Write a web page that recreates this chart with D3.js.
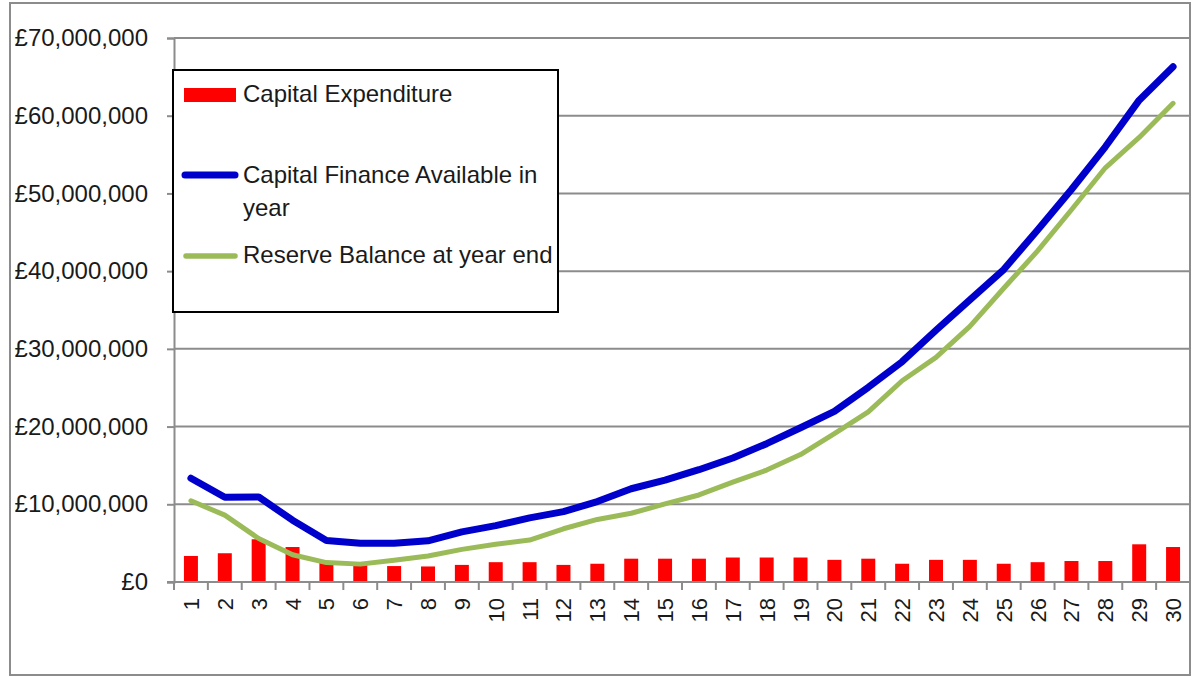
<!DOCTYPE html>
<html>
<head>
<meta charset="utf-8">
<script src="https://cdn.jsdelivr.net/npm/d3@7"></script>
<style>
  html, body { margin: 0; padding: 0; background: #fff; }
  svg { display: block; }
  text { font-family: "Liberation Sans", Arial, sans-serif; fill: #1a1a1a; }
</style>
</head>
<body>
<svg id="chart" width="1197" height="677"></svg>
<script>
// ---- Data (values in £ millions) ----
const years = ["1","2","3","4","5","6","7","8","9","10","11","12","13","14","15","16","17","18","19","20","21","22","23","24","25","26","27","28","29","30"];
const capitalExpenditure = [3.35, 3.7, 5.5, 4.5, 2.6, 2.2, 2.05, 2.0, 2.2, 2.55, 2.55, 2.2, 2.35, 3.0, 3.0, 3.0, 3.15, 3.15, 3.15, 2.85, 3.0, 2.35, 2.85, 2.85, 2.35, 2.55, 2.7, 2.7, 4.85, 4.5];
const capitalFinance = [13.35, 10.9, 10.95, 7.95, 5.35, 4.98, 4.98, 5.3, 6.45, 7.25, 8.25, 9.05, 10.35, 12.0, 13.1, 14.45, 15.95, 17.8, 19.85, 21.95, 25.05, 28.35, 32.4, 36.3, 40.2, 45.3, 50.5, 56.0, 62.0, 66.3];
const reserveBalance = [10.45, 8.6, 5.6, 3.5, 2.5, 2.3, 2.8, 3.35, 4.2, 4.85, 5.4, 6.85, 8.05, 8.85, 10.05, 11.2, 12.85, 14.4, 16.4, 19.1, 21.9, 25.9, 28.9, 32.9, 37.8, 42.6, 47.9, 53.3, 57.2, 61.6];
const yTickValues = [0, 10, 20, 30, 40, 50, 60, 70];
const legendLabels = ["Capital Expenditure", ["Capital Finance Available in", "year"], "Reserve Balance at year end"];

// ---- Layout ----
const svg = d3.select("#chart");
const plot = { left: 174, right: 1190, top: 38, bottom: 582 };
const gridColor = "#8c8c8c";

// outer frame
svg.append("rect")
  .attr("x", 10).attr("y", 3)
  .attr("width", 1180).attr("height", 672)
  .attr("fill", "#fff").attr("stroke", gridColor).attr("stroke-width", 2);

const x = d3.scaleBand().domain(years).range([plot.left, plot.right]).padding(0);
const y = d3.scaleLinear().domain([0, 70]).range([plot.bottom, plot.top]);
const fmt = v => v === 0 ? "£0" : "£" + d3.format(",")(v * 1e6);

// gridlines
svg.append("g").selectAll("line").data(yTickValues.filter(v => v > 0)).join("line")
  .attr("x1", plot.left).attr("x2", plot.right)
  .attr("y1", d => y(d)).attr("y2", d => y(d))
  .attr("stroke", gridColor).attr("stroke-width", 2);

// y axis
const yAxis = svg.append("g").attr("transform", `translate(${plot.left},0)`)
  .call(d3.axisLeft(y).tickValues(yTickValues).tickFormat(fmt).tickSize(7).tickPadding(19));
yAxis.select(".domain").attr("stroke", gridColor).attr("stroke-width", 2);
yAxis.selectAll(".tick line").attr("stroke", gridColor).attr("stroke-width", 2);
yAxis.selectAll(".tick text").attr("font-size", 24).attr("fill", "#1a1a1a")
  .style("font-family", "'Liberation Sans', Arial, sans-serif");

// bars
const barFrac = 0.413;
svg.append("g").selectAll("rect").data(capitalExpenditure).join("rect")
  .attr("x", (d, i) => x(years[i]) + x.bandwidth() * (1 - barFrac) / 2)
  .attr("width", x.bandwidth() * barFrac)
  .attr("y", d => y(d))
  .attr("height", d => y(0) - y(d))
  .attr("fill", "#ff0000");

// x axis line and ticks
svg.append("line")
  .attr("x1", plot.left - 7).attr("x2", plot.right)
  .attr("y1", plot.bottom).attr("y2", plot.bottom)
  .attr("stroke", gridColor).attr("stroke-width", 2);
const boundaries = years.map(c => x(c)).concat([plot.right]);
svg.append("g").selectAll("line").data(boundaries).join("line")
  .attr("x1", d => d).attr("x2", d => d)
  .attr("y1", plot.bottom).attr("y2", plot.bottom + 8)
  .attr("stroke", gridColor).attr("stroke-width", 2);

// x labels (rotated)
svg.append("g").selectAll("text").data(years).join("text")
  .attr("transform", d => `translate(${x(d) + x.bandwidth() / 2 + 8},${plot.bottom + 16}) rotate(-90)`)
  .attr("text-anchor", "end")
  .attr("font-size", 22)
  .text(d => d);

// lines
const line = d3.line()
  .x((d, i) => x(years[i]) + x.bandwidth() / 2)
  .y(d => y(d));
svg.append("path").datum(reserveBalance)
  .attr("d", line).attr("fill", "none")
  .attr("stroke", "#9bbb59").attr("stroke-width", 5)
  .attr("stroke-linejoin", "round").attr("stroke-linecap", "round");
svg.append("path").datum(capitalFinance)
  .attr("d", line).attr("fill", "none")
  .attr("stroke", "#0000cc").attr("stroke-width", 7)
  .attr("stroke-linejoin", "round").attr("stroke-linecap", "round");

// legend
const lg = svg.append("g");
lg.append("rect").attr("x", 173).attr("y", 70).attr("width", 385).attr("height", 242)
  .attr("fill", "#fff").attr("stroke", "#000").attr("stroke-width", 2);
lg.append("rect").attr("x", 184).attr("y", 88).attr("width", 52).attr("height", 14).attr("fill", "#ff0000");
lg.append("text").attr("x", 243).attr("y", 102).attr("font-size", 24).text(legendLabels[0]);
lg.append("line").attr("x1", 185).attr("x2", 235).attr("y1", 175).attr("y2", 175)
  .attr("stroke", "#0000cc").attr("stroke-width", 7).attr("stroke-linecap", "round");
lg.append("text").attr("x", 243).attr("y", 183).attr("font-size", 24).text(legendLabels[1][0]);
lg.append("text").attr("x", 243).attr("y", 216).attr("font-size", 24).text(legendLabels[1][1]);
lg.append("line").attr("x1", 186).attr("x2", 235).attr("y1", 256).attr("y2", 256)
  .attr("stroke", "#9bbb59").attr("stroke-width", 5.5).attr("stroke-linecap", "round");
lg.append("text").attr("x", 243).attr("y", 263).attr("font-size", 24).text(legendLabels[2]);
</script>
</body>
</html>
